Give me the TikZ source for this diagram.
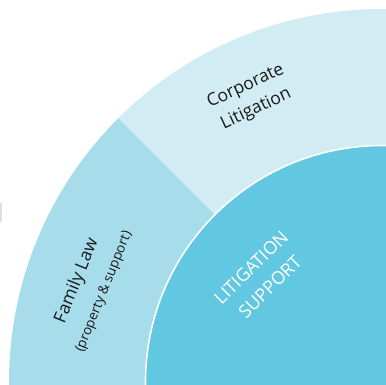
\documentclass[tikz,border=0pt]{standalone}
\usepackage{fontspec}
\setmainfont{Open Sans}
\definecolor{corpcol}{HTML}{D2ECF3}
\definecolor{famcol}{HTML}{A7DDEB}
\definecolor{corecol}{HTML}{62C8E2}
\begin{document}
\begin{tikzpicture}[x=1pt,y=1pt,
  mainlabel/.style={font=\fontsize{17.5}{25}\selectfont, text=black!90, inner sep=0pt, align=center},
  famlabel/.style={font=\fontsize{17.5}{28}\selectfont, text=black!90, inner sep=0pt, align=center},
  corelabel/.style={font=\fontsize{18}{27}\selectfont, text=white, inner sep=0pt, align=center}]
\useasboundingbox (0,0) rectangle (386,385);
\coordinate (ctr) at (382,3);
\begin{scope}
\clip (0,0) rectangle (386,385);
\fill[corpcol] (ctr) -- ++(-90:373) arc[start angle=-90, end angle=135, radius=373] -- cycle;
\fill[famcol] (ctr) -- ++(135:373) arc[start angle=135, end angle=270, radius=373] -- cycle;
\fill[corecol, draw=white, line width=1.6pt] (ctr) circle[radius=236.5];
\end{scope}
\fill[gray!25] (0,163) rectangle (1.7,182);
\node[mainlabel, rotate=25] (corp) at (251,287) {Corporate\\Litigation};
\node[famlabel, rotate=68] (fam) at (89.5,99) {Family Law\\{\fontsize{13.5}{28}\selectfont (property \& support)}};
\node[corelabel, rotate=44.5] (core) at (260.5,108) {LITIGATION\\SUPPORT};
\end{tikzpicture}
\end{document}
